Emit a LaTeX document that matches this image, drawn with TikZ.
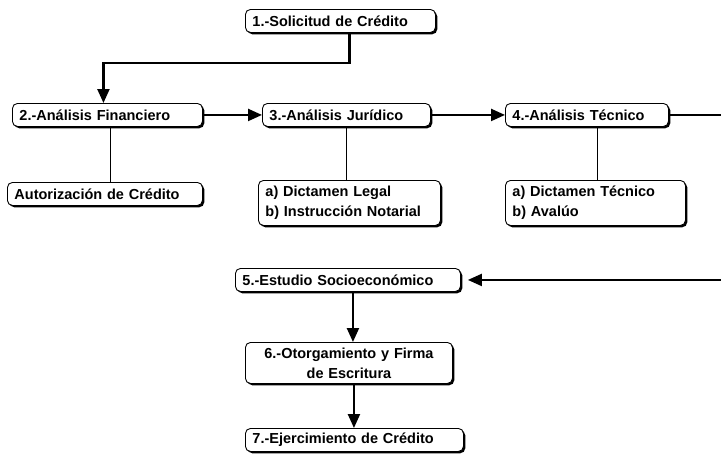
\documentclass[tikz,border=0pt]{standalone}
\usepackage{fontspec}
\setmainfont{Liberation Sans}
\usetikzlibrary{arrows.meta}
\usetikzlibrary{shadows}

\tikzset{
  etapa/.style={draw=black, line width=0.9pt, rounded corners=5pt, fill=white,
    drop shadow={shadow xshift=1.8pt, shadow yshift=-1.8pt, fill=black, opacity=1},
    anchor=north west, inner xsep=7pt, inner ysep=2pt, align=left,
    minimum height=23pt, font=\fontsize{14.5}{20}\selectfont\bfseries},
  flecha/.style={line width=2.2pt, -{Triangle[length=14pt,width=12pt]}},
  enlace/.style={line width=0.5pt}
}

\begin{document}
\begin{tikzpicture}[x=1pt, y=-1pt]
\useasboundingbox (0,0) rectangle (721,453);

% Etapas
\node[etapa, text width=176pt] (sol) at (245,9) {1.-Solicitud de Cr\'edito};
\node[etapa, text width=176pt] (fin) at (12,103) {2.-An\'alisis Financiero};
\node[etapa, text width=154pt] (jur) at (262,103) {3.-An\'alisis Jur\'idico};
\node[etapa, text width=149pt] (tec) at (505,103) {4.-An\'alisis T\'ecnico};
\node[etapa, text width=211pt] (soc) at (235,268) {5.-Estudio Socioecon\'omico};
\node[etapa, text width=193pt, minimum height=41pt, align=center] (oto) at (245,342)
  {6.-Otorgamiento y Firma\\de Escritura};
\node[etapa, text width=204pt] (eje) at (245,428) {7.-Ejercimiento de Cr\'edito};

% Resultados
\node[etapa, text width=181pt] (aut) at (7,182) {Autorizaci\'on de Cr\'edito};
\node[etapa, text width=168pt, minimum height=45pt] (leg) at (258,180)
  {a) Dictamen Legal\\b) Instrucci\'on Notarial};
\node[etapa, text width=166pt, minimum height=45pt] (dic) at (505,180)
  {a) Dictamen T\'ecnico\\b) Aval\'uo};

% Flujo
\coordinate (vuelta) at (722,0);
\draw[flecha] ([xshift=9pt]sol.south) -- ++(0,30) -| ([xshift=-4pt]fin.north);
\draw[flecha] (fin.east) -- (jur.west);
\draw[flecha] (jur.east) -- (tec.west);
\draw[flecha, shorten >=7pt] (tec.east) -- (tec.east -| vuelta) |- (soc.east);
\draw[flecha] ([xshift=5pt]soc.south) -- ([xshift=5pt]soc.south |- oto.north);
\draw[flecha] ([xshift=5pt]oto.south) -- ([xshift=5pt]oto.south |- eje.north);

% Enlaces
\draw[enlace] ([xshift=3pt]fin.south) -- ([xshift=3pt]fin.south |- aut.north);
\draw[enlace] (jur.south) -- (jur.south |- leg.north);
\draw[enlace] ([xshift=10pt]tec.south) -- ([xshift=10pt]tec.south |- dic.north);
\end{tikzpicture}
\end{document}
